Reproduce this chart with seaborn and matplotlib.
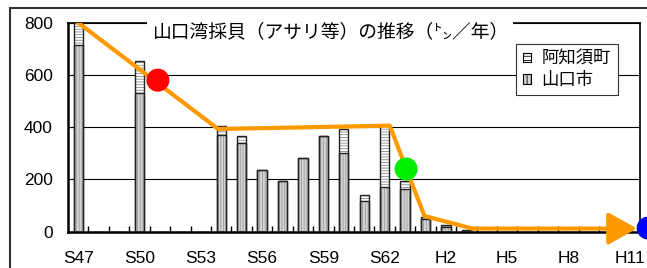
import numpy as np
import matplotlib
matplotlib.use('Agg')
import matplotlib.pyplot as plt
import matplotlib.patches as mpatches
import seaborn as sns

# data (tons / year)
year_labels = ['S47', 'S48', 'S49', 'S50', 'S51', 'S52', 'S53', 'S54', 'S55', 'S56',
               'S57', 'S58', 'S59', 'S60', 'S61', 'S62', 'S63',
               'H1', 'H2', 'H3', 'H4', 'H5', 'H6', 'H7', 'H8', 'H9', 'H10', 'H11']
yamaguchi = [713, 0, 0, 529, 0, 0, 0, 372, 340, 237,
             194, 284, 365, 302, 118, 171, 162,
             47, 19, 4, 0, 0, 0, 0, 0, 0, 0, 0]
ajisu = [87, 0, 0, 126, 0, 0, 0, 33, 26, 0,
         0, 0, 0, 93, 22, 239, 33,
         10, 7, 2, 0, 0, 0, 0, 0, 0, 0, 0]
tick_every = 3

# hand-drawn trend arrow (x in year-index units)
trend_x = [0, 6.85, 15.25, 16.95, 19.3]
trend_y = [800, 393, 406, 60, 12]
arrow_end = (27.35, 12)

# coloured dots
dot_x = [3.9, 16.05, 27.9]
dot_y = [580, 240, 14]
dot_colors = ['#ff0000', '#00ee00', '#0000ff']

title = '山口湾採貝（アサリ等）の推移（㌧／年）'
legend_labels = ['阿知須町', '山口市']

plt.rcParams['font.family'] = ['Liberation Sans', 'Noto Sans CJK JP', 'DejaVu Sans']
plt.rcParams['hatch.linewidth'] = 0.6

idx = np.arange(len(year_labels))
totals = np.array(yamaguchi) + np.array(ajisu)

fig = plt.figure(figsize=(6.47, 2.68), dpi=100)
ax = fig.add_axes([68 / 647, 1 - 231.7 / 268, 572 / 647, 209 / 268])

bar_w = 0.45
# total (Ajisu stripes on top), then Yamaguchi over it
sns.barplot(x=idx, y=totals, width=bar_w, color='white', saturation=1,
            hatch='------', edgecolor='#888888', linewidth=0, errorbar=None,
            ax=ax, zorder=2)
sns.barplot(x=idx, y=yamaguchi, width=bar_w, color='#d4d4d4', saturation=1,
            hatch='||||||', edgecolor='#9a9a9a', linewidth=0, errorbar=None,
            ax=ax, zorder=2)
# outlines
sns.barplot(x=idx, y=totals, width=bar_w, fill=False, edgecolor='#222222',
            linewidth=1.0, errorbar=None, ax=ax, zorder=3)
sns.barplot(x=idx, y=yamaguchi, width=bar_w, fill=False, edgecolor='#222222',
            linewidth=1.0, errorbar=None, ax=ax, zorder=3)

orange = '#ff9900'
sns.lineplot(x=trend_x, y=trend_y, sort=False, color=orange, lw=3, ax=ax, zorder=5)
ax.annotate('', xy=arrow_end, xytext=(trend_x[-1], trend_y[-1]),
            arrowprops=dict(arrowstyle='-|>,head_length=0.8,head_width=0.45',
                            color=orange, lw=3, shrinkA=0, shrinkB=0,
                            mutation_scale=22),
            zorder=5, annotation_clip=False)

for x, y, c in zip(dot_x, dot_y, dot_colors):
    ax.scatter([x], [y], s=275, color=c, edgecolors='none', zorder=6, clip_on=False)

ax.set_xlim(-0.5, len(year_labels) - 0.5)
ax.set_ylim(0, 800)
ax.set_yticks([0, 200, 400, 600, 800])
ax.set_xticks(idx[::tick_every])
ax.set_xticklabels(year_labels[::tick_every])
ax.set_xticks(idx[:-1] + 0.5, minor=True)
ax.set_xlabel('')
ax.set_ylabel('')
ax.tick_params(axis='x', which='major', length=0, pad=14, labelsize=12.5)
ax.tick_params(axis='x', which='minor', length=4, direction='in', width=1)
ax.tick_params(axis='y', length=4, direction='in', pad=11, labelsize=12.5)
ax.yaxis.grid(True, color='black', lw=0.8)
ax.set_axisbelow(True)
for s in ['left', 'bottom']:
    ax.spines[s].set_linewidth(1.8)
for s in ['top', 'right']:
    ax.spines[s].set_linewidth(1.2)

handles = [mpatches.Patch(facecolor='white', edgecolor='black', hatch='----', lw=0.8),
           mpatches.Patch(facecolor='#d4d4d4', edgecolor='black', hatch='||||', lw=0.8)]
leg = ax.legend(handles, legend_labels, loc='upper left',
                bbox_to_anchor=((516 - 68) / 572, 1 - (44 - 22.7) / 209),
                borderaxespad=0, fontsize=12.5, handlelength=0.45, handleheight=0.45,
                handletextpad=0.6, borderpad=0.4, labelspacing=0.3,
                fancybox=False, framealpha=1, edgecolor='#333333')
leg.get_frame().set_linewidth(0.8)
leg.set_zorder(10)

fig.text(330 / 647, 1 - 31.5 / 268, title, ha='center', va='center', fontsize=13.5,
         family=['Noto Sans CJK JP', 'DejaVu Sans'], zorder=20,
         bbox=dict(boxstyle='square,pad=0.25', facecolor='white', edgecolor='none'))

# outer frame of the chart area
fig.patches.append(mpatches.Rectangle((10 / 647, -0.5), 1.5, 1 - 8.3 / 268 + 0.5,
                                      transform=fig.transFigure, fill=False,
                                      edgecolor='#333333', lw=1.5))

fig.savefig('out.png', dpi=100)
